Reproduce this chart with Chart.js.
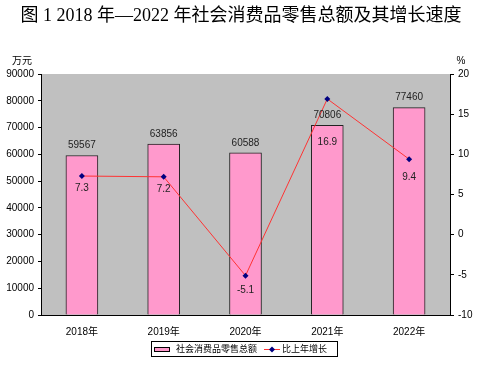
<!DOCTYPE html>
<html>
<head>
<meta charset="utf-8">
<script src="https://cdn.jsdelivr.net/npm/chart.js@4/dist/chart.umd.min.js"></script>
<style>
  html, body { margin: 0; padding: 0; background: #fff; }
  #wrap { position: relative; width: 481px; height: 369px; }
</style>
</head>
<body>
<div id="wrap"><canvas id="chart" width="481" height="369"></canvas></div>
<script>
const years = ["2018年", "2019年", "2020年", "2021年", "2022年"];
const salesTotal = [59567, 63856, 60588, 70806, 77460];
const growthRate = [7.3, 7.2, -5.1, 16.9, 9.4];
const leftTicks = [0, 90000, 10000];
const rightTicks = [-10, 20, 5];

const titleText = "图 1 2018 年—2022 年社会消费品零售总额及其增长速度";
const barLabel = "社会消费品零售总额";
const lineLabel = "比上年增长";

const cjk = "Arial, 'Liberation Sans', 'Noto Sans CJK SC', sans-serif";
const titleFont = "'Liberation Serif', 'Noto Sans CJK SC', serif";
// distance of each growth label below its point
const lineLabelOffsets = [12, 12, 15, 43, 18];

const decorPlugin = {
  id: "decor",
  beforeDraw(chart) {
    const { ctx, chartArea: a } = chart;
    ctx.save();
    ctx.fillStyle = "#c0c0c0";
    ctx.fillRect(a.left, a.top, a.right - a.left, a.bottom - a.top);
    ctx.restore();
  },
  afterDatasetsDraw(chart) {
    const { ctx } = chart;
    ctx.save();
    ctx.textAlign = "center";
    ctx.textBaseline = "middle";
    ctx.fillStyle = "#222";
    ctx.font = "10px " + cjk;
    chart.getDatasetMeta(1).data.forEach((bar, i) => {
      ctx.fillText(String(salesTotal[i]), bar.x, bar.y - 10);
    });
    chart.getDatasetMeta(0).data.forEach((pt, i) => {
      ctx.fillText(String(growthRate[i]), pt.x, pt.y + lineLabelOffsets[i]);
    });
    ctx.restore();
  },
  afterDraw(chart) {
    const { ctx, chartArea: a } = chart;
    ctx.save();
    // title
    ctx.fillStyle = "#000";
    ctx.textAlign = "center";
    ctx.textBaseline = "middle";
    ctx.font = "18px " + titleFont;
    ctx.fillText(titleText, 241, 16);
    // unit labels
    ctx.font = "10px " + cjk;
    ctx.fillText("万元", 22, 61);
    ctx.fillText("%", 461, 61);

    // legend
    ctx.strokeStyle = "#000";
    ctx.lineWidth = 1;
    ctx.strokeRect(151.5, 341.5, 186, 15);
    ctx.fillStyle = "#ff99cc";
    ctx.fillRect(154, 347, 16, 5);
    ctx.strokeRect(154.5, 347.5, 15, 4);
    ctx.fillStyle = "#000";
    ctx.textAlign = "left";
    ctx.font = "9px 'Noto Sans CJK SC', sans-serif";
    ctx.fillText(barLabel, 176, 349);
    ctx.strokeStyle = "#ff3333";
    ctx.beginPath();
    ctx.moveTo(264, 349.5);
    ctx.lineTo(280, 349.5);
    ctx.stroke();
    ctx.fillStyle = "#000080";
    ctx.beginPath();
    ctx.moveTo(272, 346.5);
    ctx.lineTo(275, 349.5);
    ctx.lineTo(272, 352.5);
    ctx.lineTo(269, 349.5);
    ctx.closePath();
    ctx.fill();
    ctx.fillStyle = "#000";
    ctx.fillText(lineLabel, 282, 349);

    // right axis border
    ctx.strokeStyle = "#000";
    ctx.beginPath();
    ctx.moveTo(a.right + 0.5, a.top);
    ctx.lineTo(a.right + 0.5, a.bottom);
    ctx.stroke();
    ctx.restore();
  }
};

new Chart(document.getElementById("chart"), {
  data: {
    labels: years,
    datasets: [
      {
        type: "line",
        label: lineLabel,
        data: growthRate,
        yAxisID: "y1",
        borderColor: "#ff3333",
        borderWidth: 1,
        pointStyle: "rectRot",
        pointRadius: 3,
        pointBackgroundColor: "#000080",
        pointBorderColor: "#000080",
        pointBorderWidth: 0,
        tension: 0,
        order: 0
      },
      {
        type: "bar",
        label: barLabel,
        data: salesTotal,
        yAxisID: "y",
        backgroundColor: "#ff99cc",
        borderColor: "#222",
        borderWidth: 1,
        barThickness: 32,
        order: 1
      }
    ]
  },
  options: {
    responsive: false,
    animation: false,
    layout: { padding: { top: 74, bottom: 26, left: 0, right: 0 } },
    plugins: {
      legend: { display: false },
      title: { display: false },
      tooltip: { enabled: false }
    },
    scales: {
      x: {
        offset: true,
        grid: { display: false },
        border: { color: "#000", width: 1 },
        ticks: { color: "#000", font: { size: 10, family: cjk }, padding: 3 },
        afterFit: (scale) => { scale.height = 28; }
      },
      y: {
        position: "left",
        min: leftTicks[0],
        max: leftTicks[1],
        ticks: {
          stepSize: leftTicks[2],
          color: "#000",
          font: { size: 10, family: cjk },
          padding: 4,
          callback: (v) => String(v)
        },
        grid: { drawOnChartArea: false, tickLength: 3, color: "#000" },
        border: { color: "#000", width: 1 },
        afterFit: (scale) => { scale.width = 41; }
      },
      y1: {
        position: "right",
        min: rightTicks[0],
        max: rightTicks[1],
        ticks: { stepSize: rightTicks[2], color: "#000", font: { size: 10, family: cjk }, padding: 4 },
        grid: { drawOnChartArea: false, tickLength: 4, color: "#000" },
        border: { color: "#000", width: 1 },
        afterFit: (scale) => { scale.width = 31; }
      }
    }
  },
  plugins: [decorPlugin]
});
</script>
</body>
</html>
